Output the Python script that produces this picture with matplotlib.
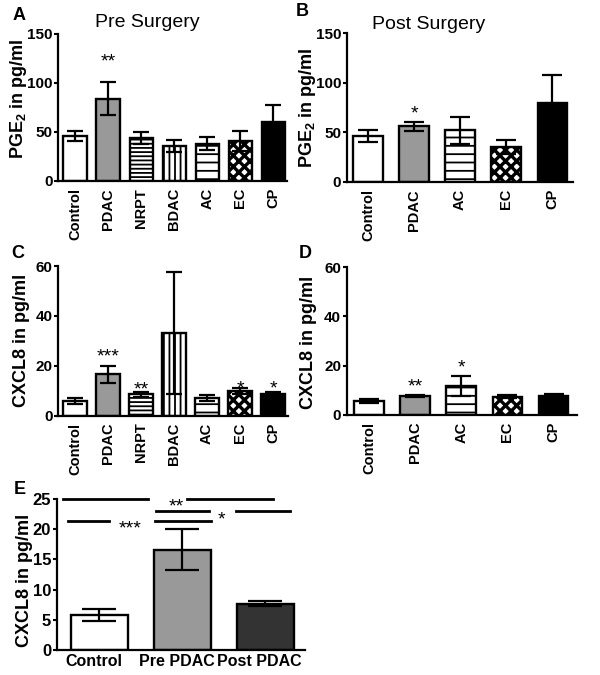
import numpy as np
import matplotlib
matplotlib.use("Agg")
import matplotlib.pyplot as plt
import matplotlib.transforms as mtransforms

plt.rcParams['font.family'] = ['Liberation Sans', 'DejaVu Sans']
plt.rcParams['font.weight'] = 'bold'
plt.rcParams['axes.labelweight'] = 'bold'
plt.rcParams['mathtext.fontset'] = 'custom'
plt.rcParams['mathtext.rm'] = 'Liberation Sans:bold'
plt.rcParams['mathtext.bf'] = 'Liberation Sans:bold'
plt.rcParams['hatch.linewidth'] = 1.3
plt.rcParams['hatch.color'] = 'black'

# ---- data ----
pre_groups = ['Control', 'PDAC', 'NRPT', 'BDAC', 'AC', 'EC', 'CP']
post_groups = ['Control', 'PDAC', 'AC', 'EC', 'CP']
cmp_groups = ['Control', 'Pre PDAC', 'Post PDAC']

pge2_pre = [45.5, 84, 44, 35.5, 38, 41, 60.5]
pge2_pre_err = [5, 17, 6, 6, 6.5, 10, 17]
pge2_post = [46, 56, 52, 35.5, 80]
pge2_post_err = [6, 4.5, 14, 7, 28]

cxcl8_pre = [5.9, 16.6, 8.6, 33.2, 7.2, 9.8, 8.7]
cxcl8_pre_err = [1.1, 3.4, 1.0, 24.6, 1.1, 1.2, 0.9]
cxcl8_post = [5.7, 7.6, 11.7, 7.3, 7.7]
cxcl8_post_err = [0.9, 0.5, 4.0, 0.6, 0.7]

cxcl8_cmp = [5.8, 16.6, 7.7]
cxcl8_cmp_err = [1.0, 3.4, 0.4]

pge2_ticks = [0, 50, 100, 150]
cxcl8_ticks = [0, 20, 40, 60]
cmp_ticks = [0, 5, 10, 15, 20, 25]

# significance stars: (group, star centre y, text)
stars_a = [('PDAC', 128.6, '**')]
stars_b = [('PDAC', 75.4, '*')]
stars_c = [('PDAC', 26.3, '***'), ('NRPT', 13.0, '**'), ('EC', 13.4, '*'), ('CP', 13.4, '*')]
stars_d = [('PDAC', 14.1, '**'), ('AC', 21.9, '*')]

# group styles (face colour, hatch)
style = {
    'Control': ('white', None),
    'PDAC': ('#999999', None),
    'NRPT': ('white', '----'),
    'BDAC': ('white', '|||'),
    'AC': ('white', '--'),
    'EC': ('white', 'xxx'),
    'CP': ('black', None),
}

fig = plt.figure(figsize=(6, 6.75), dpi=100)


def style_axes(ax, yticks, labsize):
    ax.set_ylim(0, yticks[-1])
    ax.set_yticks(yticks)
    ax.set_yticklabels([str(v) for v in yticks], fontsize=labsize + 0.5,
                       fontweight='bold')
    ax.tick_params(axis='x', length=0, pad=5)
    ax.tick_params(axis='y', length=3, width=1.5, pad=1)
    for s in ['top', 'right']:
        ax.spines[s].set_visible(False)
    for s in ['left', 'bottom']:
        ax.spines[s].set_linewidth(1.6)


def panel(rect, groups, vals, errs, yticks, ylabel, width, cap, labx, laby, stars):
    ax = fig.add_axes(rect)
    x = np.arange(len(groups))
    for i, g in enumerate(groups):
        fc, h = style[g]
        bars = ax.bar(x[i], vals[i], width, color=fc, edgecolor='black',
                      linewidth=1.7, hatch=h, zorder=2)
        if g == 'EC' and hasattr(bars[0], 'set_hatch_linewidth'):
            bars[0].set_hatch_linewidth(2.4)
    ax.errorbar(x, vals, yerr=errs, fmt='none', ecolor='black', elinewidth=1.6,
                capsize=cap, capthick=1.6, zorder=3)
    ax.set_xticks(x)
    ax.set_xticklabels(groups, rotation=90, fontsize=10.5, fontweight='bold')
    style_axes(ax, yticks, 10.5)
    ax.set_ylabel(ylabel, fontsize=13, fontweight='bold')
    ax.yaxis.set_label_coords(labx, laby)
    tr = mtransforms.offset_copy(ax.transData, fig=fig, y=-8, units='points')
    for g, y, s in stars:
        ax.text(groups.index(g), y, s, transform=tr, ha='center', va='baseline',
                fontsize=14, fontweight='normal')
    return ax


ax_a = panel([0.0967, 0.7319, 0.381, 0.2178], pre_groups, pge2_pre, pge2_pre_err,
             pge2_ticks, r'PGE$_\mathbf{2}$ in pg/ml', 0.7, 6, -0.127, 0.56, stars_a)
ax_a.set_xlim(-0.514, 6.405)
ax_a.text(0.39, 1.075, 'Pre Surgery', transform=ax_a.transAxes, ha='center',
          va='center', fontsize=14, fontweight='normal')

ax_b = panel([0.578, 0.7304, 0.377, 0.2203], post_groups, pge2_post, pge2_post_err,
             pge2_ticks, r'PGE$_\mathbf{2}$ in pg/ml', 0.64, 7, -0.127, 0.5, stars_b)
ax_b.set_xlim(-0.46, 4.45)
ax_b.text(0.36, 1.056, 'Post Surgery', transform=ax_b.transAxes, ha='center',
          va='center', fontsize=14, fontweight='normal')

ax_c = panel([0.0967, 0.3841, 0.383, 0.2218], pre_groups, cxcl8_pre, cxcl8_pre_err,
             cxcl8_ticks, 'CXCL8 in pg/ml', 0.7, 6, -0.122, 0.5, stars_c)
ax_c.set_xlim(-0.514, 6.45)

ax_d = panel([0.578, 0.3856, 0.383, 0.2184], post_groups, cxcl8_post, cxcl8_post_err,
             cxcl8_ticks, 'CXCL8 in pg/ml', 0.64, 7, -0.13, 0.49, stars_d)
ax_d.set_xlim(-0.48, 4.5)

# panel E
ax_e = fig.add_axes([0.0945, 0.037, 0.414, 0.2237])
xe = np.arange(len(cmp_groups))
ax_e.bar(xe, cxcl8_cmp, 0.69, color=['white', '#999999', '#333333'],
         edgecolor='black', linewidth=1.7, zorder=2)
ax_e.errorbar(xe, cxcl8_cmp, yerr=cxcl8_cmp_err, fmt='none', ecolor='black',
              elinewidth=1.6, capsize=12, capthick=1.6, zorder=3)
ax_e.set_xlim(-0.516, 2.48)
ax_e.set_xticks(xe)
ax_e.set_xticklabels(cmp_groups, fontsize=11.5, fontweight='bold')
style_axes(ax_e, cmp_ticks, 11.5)
ax_e.tick_params(axis='x', pad=3)
shift = mtransforms.ScaledTranslation(-6 / 100, 0, fig.dpi_scale_trans)
for t in ax_e.get_xticklabels():
    t.set_transform(t.get_transform() + shift)
ax_e.set_ylabel('CXCL8 in pg/ml', fontsize=13, fontweight='bold')
ax_e.yaxis.set_label_coords(-0.094, 0.46)

# significance bars in E
sig_lines = [
    (25.0, -0.436, 0.58), (25.0, 1.05, 2.087),
    (21.4, -0.376, 0.118), (21.4, 0.669, 1.34),
    (23.1, 0.68, 1.317), (23.1, 1.645, 2.295),
]
for y, x0, x1 in sig_lines:
    ax_e.plot([x0, x1], [y, y], color='black', lw=2, clip_on=False)
tr_e = mtransforms.offset_copy(ax_e.transData, fig=fig, y=-8, units='points')
for xs, ys, s in [(0.93, 24.8, '**'), (0.367, 21.2, '***'), (1.47, 22.7, '*')]:
    ax_e.text(xs, ys, s, transform=tr_e, ha='center', va='baseline', fontsize=14,
              fontweight='normal')

# panel letters
for lab, px, py in [('A', 19, 15), ('B', 302, 11), ('C', 18, 253),
                    ('D', 305, 253), ('E', 20, 490)]:
    fig.text(px / 600, 1 - py / 675, lab, fontsize=13, fontweight='bold',
             ha='center', va='center')

fig.savefig('out.png', dpi=100)
